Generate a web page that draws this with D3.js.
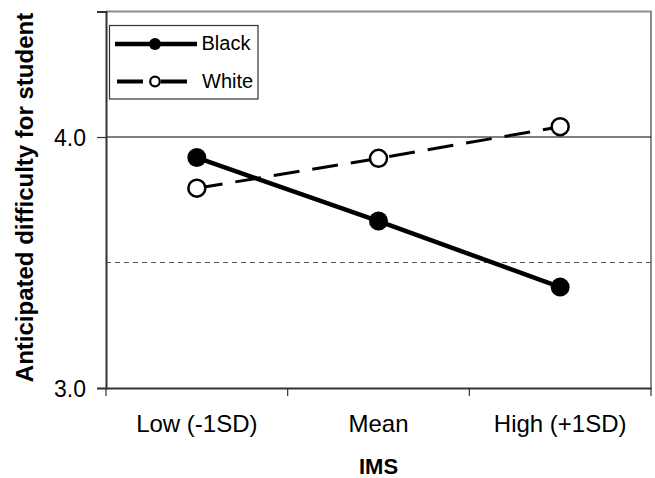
<!DOCTYPE html>
<html>
<head>
<meta charset="utf-8">
<script src="https://cdn.jsdelivr.net/npm/d3@7"></script>
<style>
  html, body { margin: 0; padding: 0; background: #fff; }
  svg { display: block; }
  text { font-family: "Liberation Sans", Arial, sans-serif; fill: #000; }
</style>
</head>
<body>
<svg id="chart" width="655" height="478"></svg>
<script>
const categories = ["Low (-1SD)", "Mean", "High (+1SD)"];
const seriesNames = ["Black", "White"];
const blackValues = [3.918, 3.665, 3.402];
const whiteValues = [3.796, 3.915, 4.041];
const yTickValues = [3.0, 4.0];
const yDomain = [3.0, 4.5];
const xTitle = "IMS";
const yTitle = "Anticipated difficulty for student";

const svg = d3.select("#chart");
const mLeft = 106, mRight = 651, mTop = 11.5, mBottom = 388;

const x = d3.scaleBand().domain(categories).range([mLeft, mRight]).padding(0);
const y = d3.scaleLinear().domain(yDomain).range([mBottom, mTop]);
function cxOf(c) { return x(c) + x.bandwidth() / 2; }

// frame top/right
svg.append("path")
  .attr("d", `M${mLeft},${y(yDomain[1])}H${mRight}V${mBottom}`)
  .attr("fill", "none").attr("stroke", "#8c8c8c").attr("stroke-width", 2);

// gridlines
svg.append("line")
  .attr("x1", mLeft).attr("x2", mRight).attr("y1", y(4.0)).attr("y2", y(4.0))
  .attr("stroke", "#000").attr("stroke-width", 1);
svg.append("line")
  .attr("x1", mLeft).attr("x2", mRight).attr("y1", y(3.5)).attr("y2", y(3.5))
  .attr("stroke", "#555").attr("stroke-width", 1).attr("stroke-dasharray", "5,4");

// y axis
const yAxis = d3.axisLeft(y).tickValues(yTickValues).tickSize(9).tickPadding(11)
  .tickFormat(d3.format(".1f"));
const gy = svg.append("g").attr("transform", `translate(${mLeft},0)`).call(yAxis);
gy.select(".domain").attr("stroke", "#333").attr("stroke-width", 2);
gy.selectAll(".tick line").attr("stroke", "#333").attr("stroke-width", 1.2);
gy.selectAll(".tick text").style("font-size", "23px").style("font-family", "Liberation Sans, Arial, sans-serif").attr("dy", "0.36em");

// x axis
const xAxis = d3.axisBottom(x).tickSize(0).tickPadding(0);
const gx = svg.append("g").attr("transform", `translate(0,${mBottom})`).call(xAxis);
gx.select(".domain").attr("stroke", "#333").attr("stroke-width", 2);
gx.selectAll(".tick text").style("font-size", "24px").style("font-family", "Liberation Sans, Arial, sans-serif")
  .attr("dy", null).attr("y", 43.7);
const bounds = categories.map(c => x(c)).concat([x.range()[1]]);
gx.selectAll(".bnd").data(bounds).enter().append("line")
  .attr("x1", d => d).attr("x2", d => d).attr("y1", 0).attr("y2", 8)
  .attr("stroke", "#333").attr("stroke-width", 1.2);

// titles
svg.append("text").attr("x", cxOf(categories[1])).attr("y", 474)
  .attr("text-anchor", "middle").style("font-size", "22px").style("font-weight", "bold").text(xTitle);
svg.append("text").attr("transform", `translate(33,${(13 + 382) / 2}) rotate(-90)`)
  .attr("text-anchor", "middle").style("font-size", "24px").style("font-weight", "bold").text(yTitle);

// lines
const line = d3.line().x((d, i) => cxOf(categories[i])).y(d => y(d));
svg.append("path").datum(whiteValues).attr("d", line)
  .attr("fill", "none").attr("stroke", "#000").attr("stroke-width", 3).attr("stroke-dasharray", "26,13");
svg.append("path").datum(blackValues).attr("d", line)
  .attr("fill", "none").attr("stroke", "#000").attr("stroke-width", 4.5);

svg.selectAll(".wpt").data(whiteValues).enter().append("circle")
  .attr("cx", (d, i) => cxOf(categories[i])).attr("cy", d => y(d)).attr("r", 8.5)
  .attr("fill", "#fff").attr("stroke", "#000").attr("stroke-width", 2.5);
svg.selectAll(".bpt").data(blackValues).enter().append("circle")
  .attr("cx", (d, i) => cxOf(categories[i])).attr("cy", d => y(d)).attr("r", 9.5)
  .attr("fill", "#000");

// legend
const lg = svg.append("g");
lg.append("rect").attr("x", 109.5).attr("y", 25.5).attr("width", 148.5).attr("height", 73.5)
  .attr("fill", "#fff").attr("stroke", "#333").attr("stroke-width", 1.2);
lg.append("line").attr("x1", 115).attr("x2", 197).attr("y1", 44).attr("y2", 44)
  .attr("stroke", "#000").attr("stroke-width", 4.5);
lg.append("circle").attr("cx", 155).attr("cy", 44).attr("r", 6).attr("fill", "#000");
lg.append("line").attr("x1", 117).attr("x2", 187).attr("y1", 81.5).attr("y2", 81.5)
  .attr("stroke", "#000").attr("stroke-width", 4).attr("stroke-dasharray", "26,18");
lg.append("circle").attr("cx", 155).attr("cy", 81.5).attr("r", 4.8)
  .attr("fill", "#fff").attr("stroke", "#000").attr("stroke-width", 2.2);
lg.append("text").attr("x", 201.5).attr("y", 49.5).style("font-size", "20px").text(seriesNames[0]);
lg.append("text").attr("x", 202).attr("y", 88).style("font-size", "20px").text(seriesNames[1]);
</script>
</body>
</html>
